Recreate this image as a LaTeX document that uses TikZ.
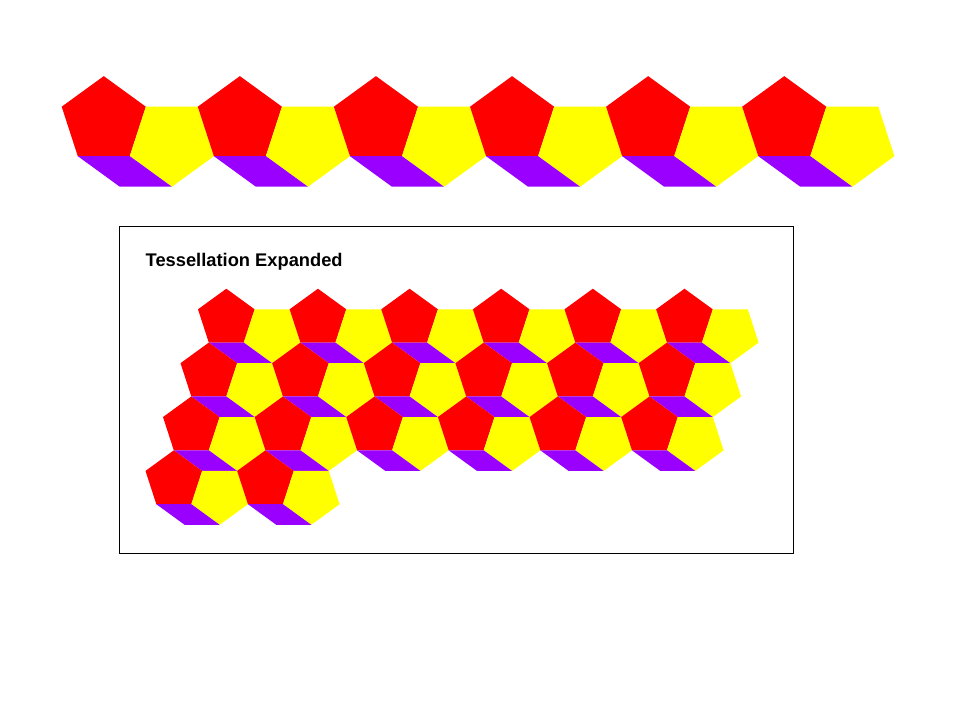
\documentclass[tikz,border=0pt]{standalone}
\usepackage{fontspec}
\setmainfont{Liberation Sans}
\definecolor{pred}{HTML}{FF0000}
\definecolor{pyel}{HTML}{FFFF00}
\definecolor{ppur}{HTML}{9900FF}
\newcommand\tessunit[3]{%
  % #1,#2 = left vertex of the red pentagon, #3 = side length
  \fill[pred] (#1,#2) -- ({#1+0.809*#3},{#2-0.588*#3}) -- ({#1+1.618*#3},#2)
     -- ({#1+1.309*#3},{#2+0.951*#3}) -- ({#1+0.309*#3},{#2+0.951*#3}) -- cycle;
  \fill[pyel] ({#1+1.618*#3},#2) -- ({#1+2.618*#3},#2) -- ({#1+2.927*#3},{#2+0.951*#3})
     -- ({#1+2.118*#3},{#2+1.539*#3}) -- ({#1+1.309*#3},{#2+0.951*#3}) -- cycle;
  \fill[ppur] ({#1+0.309*#3},{#2+0.951*#3}) -- ({#1+1.309*#3},{#2+0.951*#3})
     -- ({#1+2.118*#3},{#2+1.539*#3}) -- ({#1+1.118*#3},{#2+1.539*#3}) -- cycle;
}
\tikzset{framebox/.style={draw=black,line width=1pt},
  titletext/.style={anchor=base west,inner sep=0pt,font=\fontsize{18.3}{22}\selectfont\bfseries}}
\begin{document}
\begin{tikzpicture}[x=1pt,y=-1pt]
\useasboundingbox[fill=white] (0,0) rectangle (960,720);
% top strip
\foreach \i in {0,...,5}{
  \pgfmathsetmacro{\ux}{61.7+\i*136.1}
  \tessunit{\ux}{106.7}{52}
}
% expanded tessellation
\draw[framebox] (119.5,226.5) rectangle (793.3,553);
\node[titletext] (title) at (145.5,266.7) {Tessellation Expanded};
\foreach \r/\n in {0/5,1/5,2/5,3/1}{
  \foreach \i in {0,...,\n}{
    \pgfmathsetmacro{\ux}{198-\r*17.5+\i*91.63}
    \pgfmathsetmacro{\uy}{309.3+\r*53.87}
    \tessunit{\ux}{\uy}{35}
  }
}
\end{tikzpicture}
\end{document}
